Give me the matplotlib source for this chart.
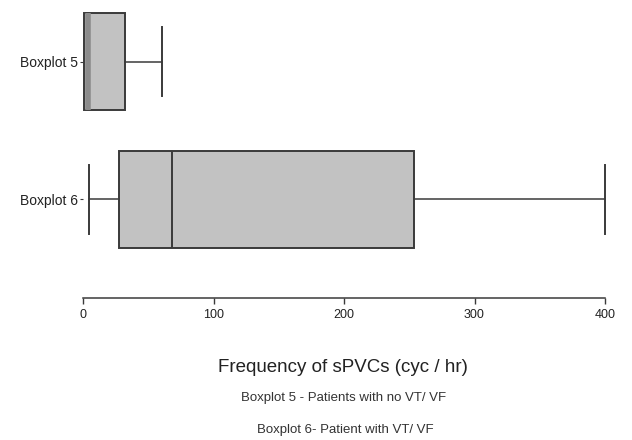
import matplotlib.pyplot as plt

# box statistics (cyc / hr)
labels = ["Boxplot 5", "Boxplot 6"]
whislo = [0.8, 4.6]
q1 = [0.8, 27.6]
med = [3.5, 68]
q3 = [32, 253.5]
whishi = [60.5, 400]

notes = ["Boxplot 5 - Patients with no VT/ VF", "Boxplot 6- Patient with VT/ VF"]

plt.rcParams['font.family'] = ['Liberation Sans', 'DejaVu Sans']

stats = []
for i in range(len(labels)):
    stats.append(dict(label=labels[i], whislo=whislo[i], q1=q1[i], med=med[i],
                      q3=q3[i], whishi=whishi[i], fliers=[]))

fig = plt.figure(figsize=(6.32, 4.4), dpi=100)
ax = fig.add_axes([83 / 632, 1 - 297.7 / 440, 522 / 632, 297.7 / 440])

edge = '#3a3a3a'
parts = ax.bxp(stats, positions=[1, 2], vert=False, widths=0.70, capwidths=0.5,
               patch_artist=True, showfliers=False,
               boxprops=dict(facecolor='#c2c2c2', edgecolor=edge, linewidth=1.4),
               medianprops=dict(color=edge, linewidth=1.4),
               whiskerprops=dict(color=edge, linewidth=1.1),
               capprops=dict(color=edge, linewidth=1.4))
# the median of boxplot 5 sits almost on the lower quartile: a blurred grey band
parts['medians'][0].set_color('#8c8c8c')
parts['medians'][0].set_linewidth(4)
parts['caps'][0].set_visible(False)

ax.set_xlim(0, 400)
ax.set_ylim(2.712, 0.554)
for l in ax.lines:
    l.set_clip_on(False)
for p in ax.patches:
    p.set_clip_on(False)
    p.set_zorder(1)

for s in ['top', 'right', 'left']:
    ax.spines[s].set_visible(False)
ax.spines['bottom'].set_bounds(0, 400)
ax.spines['bottom'].set_color(edge)
ax.spines['bottom'].set_linewidth(1.1)

ax.set_xticks([0, 100, 200, 300, 400])
ax.tick_params(axis='x', length=4, width=1, colors=edge, labelsize=9, pad=4,
               labelcolor='#222222')
ax.tick_params(axis='y', length=2.5, width=0.8, colors=edge, labelsize=10, pad=1,
               labelcolor='#222222')
ax.set_yticks([1, 2])
ax.set_yticklabels(labels)

fig.text(343 / 632, 1 - 367 / 440, "Frequency of sPVCs (cyc / hr)", ha='center',
         va='center', fontsize=13.5, color='#222222')
fig.text(344 / 632, 1 - 398 / 440, notes[0], ha='center', va='center',
         fontsize=9.5, color='#333333')
fig.text(345 / 632, 1 - 430 / 440, notes[1], ha='center', va='center',
         fontsize=9.5, color='#333333')

fig.savefig('out.png', dpi=100)
